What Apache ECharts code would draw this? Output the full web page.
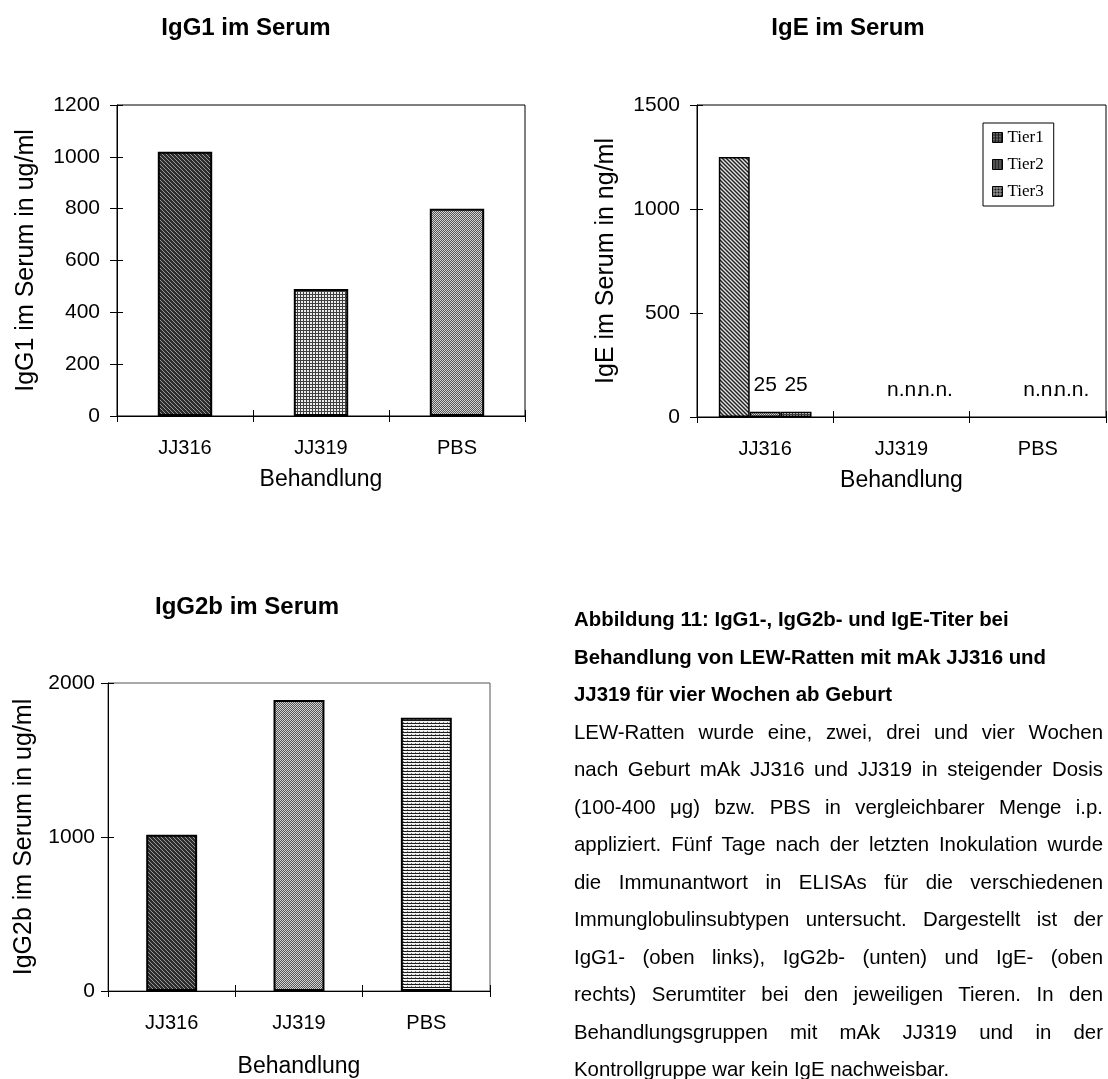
<!DOCTYPE html>
<html>
<head>
<meta charset="utf-8">
<script src="https://cdn.jsdelivr.net/npm/echarts@6/dist/echarts.min.js"></script>
<style>
  html, body { margin: 0; padding: 0; background: #ffffff; }
  #chart { position: absolute; left: 0; top: 0; width: 1108px; height: 1079px; }
  #caption { position: absolute; left: 574px; top: 601px; width: 529px;
    font-family: "Liberation Sans", Arial, sans-serif; font-size: 20.4px; line-height: 37.5px; color: #000; }
  #caption .b { font-weight: bold; white-space: nowrap; }
  #caption .j { text-align: justify; text-align-last: justify; white-space: nowrap; }
  #caption .l { text-align: left; white-space: nowrap; }
</style>
</head>
<body>
<div id="chart"></div>
<div id="caption">
  <div class="b">Abbildung 11: IgG1-, IgG2b- und IgE-Titer bei</div>
  <div class="b">Behandlung von LEW-Ratten mit mAk JJ316 und</div>
  <div class="b">JJ319 für vier Wochen ab Geburt</div>
  <div class="j">LEW-Ratten wurde eine, zwei, drei und vier Wochen</div>
  <div class="j">nach Geburt mAk JJ316 und JJ319 in steigender Dosis</div>
  <div class="j">(100-400 μg) bzw. PBS in vergleichbarer Menge i.p.</div>
  <div class="j">appliziert. Fünf Tage nach der letzten Inokulation wurde</div>
  <div class="j">die Immunantwort in ELISAs für die verschiedenen</div>
  <div class="j">Immunglobulinsubtypen untersucht. Dargestellt ist der</div>
  <div class="j">IgG1- (oben links), IgG2b- (unten) und IgE- (oben</div>
  <div class="j">rechts) Serumtiter bei den jeweiligen Tieren. In den</div>
  <div class="j">Behandlungsgruppen mit mAk JJ319 und in der</div>
  <div class="l">Kontrollgruppe war kein IgE nachweisbar.</div>
</div>
<script>
// ---------------- data ----------------
const categories = ['JJ316', 'JJ319', 'PBS'];
const igg1Values = [1020, 490, 800];
const igg2bValues = [1015, 1890, 1775];
const igeTierNames = ['Tier1', 'Tier2', 'Tier3'];
const igeTier1 = [1250, 0, 0];
const igeTier2 = [25, 0, 0];
const igeTier3 = [25, 0, 0];
const notDetected = 'n.n.';
const titles = ['IgG1 im Serum', 'IgE im Serum', 'IgG2b im Serum'];
const yNames = ['IgG1 im Serum in ug/ml', 'IgE im Serum in ng/ml', 'IgG2b im Serum in ug/ml'];
const xName = 'Behandlung';

// ---------------- patterns ----------------
function makePattern(w, h, fn) {
  const c = document.createElement('canvas');
  c.width = w; c.height = h;
  const ctx = c.getContext('2d');
  for (let y = 0; y < h; y++) for (let x = 0; x < w; x++) {
    ctx.fillStyle = fn(x, y); ctx.fillRect(x, y, 1, 1);
  }
  return { image: c, repeat: 'repeat' };
}
const pDiagDark = makePattern(4, 4, (x, y) => ((x - y + 8) % 4 === 0 ? '#9a9a9a' : '#2c2c2c'));
const pGrid = makePattern(3, 3, (x, y) => (x === 0 || y === 0 ? '#404040' : '#ececec'));
const pChecker = makePattern(2, 2, (x, y) => ((x + y) % 2 ? '#555555' : '#d4d4d4'));
const pHLines = makePattern(4, 3, (x, y) => (y === 0 ? '#1a1a1a' : (y === 1 ? '#f4f4f4' : (x === 3 ? '#777777' : '#eeeeee'))));
const pDiagMed = makePattern(4, 4, (x, y) => {
  const k = (x - y + 8) % 4; return k === 0 ? '#222222' : (k === 2 ? '#e4e4e4' : '#808080');
});
// darker variants for the small legend keys
const pKey1 = makePattern(3, 3, (x, y) => (x === 1 && y !== 2 ? '#bbbbbb' : '#1e1e1e'));
const pKey2 = makePattern(3, 2, (x, y) => (x === 1 && y === 0 ? '#cccccc' : '#2a2a2a'));
const pKey3 = makePattern(3, 3, (x, y) => (x === 1 || y === 1 ? '#aaaaaa' : '#111111'));

const FONT = '"Liberation Sans", Arial, sans-serif';

// ---------------- layout helpers ----------------
const grids = [
  { left: 117, top: 105, width: 408, height: 311 },
  { left: 697, top: 105, width: 409, height: 312 },
  { left: 108, top: 683, width: 382, height: 310 }
];
const yScales = [
  { max: 1200, interval: 200 },
  { max: 1500, interval: 500 },
  { max: 2000, interval: 1000 }
];
const yNameGap = [78, 78, 71];
const xNameGap = [52, 52, 64];
const yLabelMargin = [17, 17, 13];

const xAxes = [], yAxes = [];
grids.forEach((g, i) => {
  xAxes.push({
    gridIndex: i, type: 'category', data: categories, position: 'bottom',
    axisLine: { show: true, onZero: false, lineStyle: { color: '#000', width: 1 } },
    axisTick: { show: true, length: 6, lineStyle: { color: '#000' } },
    axisLabel: { color: '#000', fontSize: 20, fontFamily: FONT, margin: 22 },
    splitLine: { show: false },
    name: xName, nameLocation: 'middle', nameGap: xNameGap[i],
    nameTextStyle: { color: '#000', fontSize: 23, fontFamily: FONT }
  });
  xAxes.push({
    gridIndex: i, type: 'category', data: categories, position: 'bottom',
    axisLine: { show: false, onZero: false },
    axisTick: { show: true, inside: true, length: 6, lineStyle: { color: '#000' } },
    axisLabel: { show: false }, splitLine: { show: false }
  });
  yAxes.push({
    gridIndex: i, type: 'value', min: 0, max: yScales[i].max, interval: yScales[i].interval, position: 'left',
    axisLine: { show: true, lineStyle: { color: '#000', width: 1 } },
    axisTick: { show: true, length: 7, lineStyle: { color: '#000' } },
    axisLabel: { color: '#000', fontSize: 21, fontFamily: FONT, margin: yLabelMargin[i], formatter: v => String(v) },
    splitLine: { show: false },
    name: yNames[i], nameLocation: 'middle', nameGap: yNameGap[i], nameRotate: 90,
    nameTextStyle: { color: '#000', fontSize: 25, fontFamily: FONT }
  });
  yAxes.push({
    gridIndex: i, type: 'value', min: 0, max: yScales[i].max, interval: yScales[i].interval, position: 'left',
    axisLine: { show: false },
    axisTick: { show: true, inside: true, length: 6, lineStyle: { color: '#000' } },
    axisLabel: { show: false }, splitLine: { show: false }
  });
});

function patternedData(values, patterns) {
  return values.map((v, k) => ({ value: v, itemStyle: { color: patterns[k] } }));
}
function igeData(values) {
  return values.map(v => v === 0
    ? { value: v, label: { offset: [3, 0] }, itemStyle: { borderWidth: 0 } }
    : { value: v });
}

const igeBarStyle = { borderColor: '#000', borderWidth: 1.5 };
const igeLabel = {
  show: true, position: 'top', distance: 16, color: '#000', fontSize: 21, fontFamily: FONT,
  formatter: p => (p.value === 0 ? notDetected : String(p.value))
};
const legendKeys = [pKey1, pKey2, pKey3];

const option = {
  animation: false,
  backgroundColor: '#ffffff',
  title: [
    { text: titles[0], left: 246, top: 16, padding: 0, textAlign: 'center',
      textStyle: { color: '#000', fontSize: 24, fontWeight: 'bold', fontFamily: FONT } },
    { text: titles[1], left: 848, top: 16, padding: 0, textAlign: 'center',
      textStyle: { color: '#000', fontSize: 24, fontWeight: 'bold', fontFamily: FONT } },
    { text: titles[2], left: 247, top: 595, padding: 0, textAlign: 'center',
      textStyle: { color: '#000', fontSize: 24, fontWeight: 'bold', fontFamily: FONT } }
  ],
  legend: {
    data: igeTierNames.map((n, k) => ({ name: n, itemStyle: { color: legendKeys[k] } })),
    orient: 'vertical', left: 983, top: 123,
    padding: [6, 10, 6, 9], itemWidth: 10, itemHeight: 10, itemGap: 10,
    borderColor: '#000', borderWidth: 1, backgroundColor: '#fff',
    icon: 'rect',
    itemStyle: { borderColor: '#000', borderWidth: 1 },
    textStyle: { color: '#000', fontSize: 17, lineHeight: 16, fontFamily: '"Liberation Serif", "Times New Roman", serif' }
  },
  grid: grids.map((g, i) => Object.assign({ show: true, borderColor: i === 2 ? '#555' : '#000', borderWidth: 1, backgroundColor: 'transparent' }, g)),
  xAxis: xAxes,
  yAxis: yAxes,
  series: [
    { name: 'IgG1', type: 'bar', xAxisIndex: 0, yAxisIndex: 0, barWidth: '40%',
      data: patternedData(igg1Values, [pDiagDark, pGrid, pChecker]),
      itemStyle: { borderColor: '#000', borderWidth: 2 } },
    { name: igeTierNames[0], type: 'bar', xAxisIndex: 2, yAxisIndex: 2, barGap: '0%', barCategoryGap: '32%',
      data: igeData(igeTier1), itemStyle: Object.assign({ color: pDiagMed }, igeBarStyle) },
    { name: igeTierNames[1], type: 'bar', xAxisIndex: 2, yAxisIndex: 2, barGap: '0%', barCategoryGap: '32%',
      data: igeData(igeTier2), itemStyle: Object.assign({ color: pChecker }, igeBarStyle), label: igeLabel },
    { name: igeTierNames[2], type: 'bar', xAxisIndex: 2, yAxisIndex: 2, barGap: '0%', barCategoryGap: '32%',
      data: igeData(igeTier3), itemStyle: Object.assign({ color: pGrid }, igeBarStyle), label: igeLabel },
    { name: 'IgG2b', type: 'bar', xAxisIndex: 4, yAxisIndex: 4, barWidth: '40%',
      data: patternedData(igg2bValues, [pDiagDark, pChecker, pHLines]),
      itemStyle: { borderColor: '#000', borderWidth: 2 } }
  ]
};

const chart = echarts.init(document.getElementById('chart'), null, { renderer: 'canvas' });
chart.setOption(option);
</script>
</body>
</html>
